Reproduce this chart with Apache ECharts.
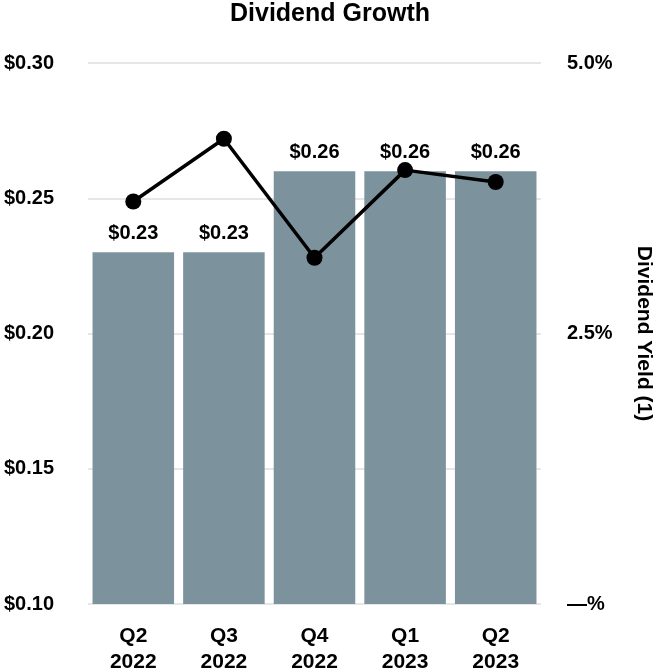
<!DOCTYPE html>
<html>
<head>
<meta charset="utf-8">
<script src="https://cdn.jsdelivr.net/npm/echarts@6/dist/echarts.min.js"></script>
<style>html,body{margin:0;padding:0;background:#fff}#c{width:660px;height:670px}</style>
</head>
<body>
<div id="c"></div>
<script>
const categories = ['Q2\n2022', 'Q3\n2022', 'Q4\n2022', 'Q1\n2023', 'Q2\n2023'];
const dividends = [0.23, 0.23, 0.26, 0.26, 0.26];
const yields = [3.72, 4.30, 3.20, 4.01, 3.90];
const leftTicks = { min: 0.10, max: 0.30, interval: 0.05 };
const rightTicks = { min: 0, max: 5, interval: 2.5 };

const FONT = '"Liberation Sans", Arial, sans-serif';
const chart = echarts.init(document.getElementById('c'));
chart.setOption({
  animation: false,
  title: {
    text: 'Dividend Growth', left: 'center', top: -3,
    textStyle: { fontFamily: FONT, fontWeight: 'bold', fontSize: 25, color: '#000' }
  },
  grid: { left: 88, right: 119, top: 63, bottom: 66, outerBoundsMode: 'none', containLabel: false },
  xAxis: {
    type: 'category', data: categories,
    axisLine: { show: false }, axisTick: { show: false },
    axisLabel: { fontFamily: FONT, fontWeight: 'bold', fontSize: 21, color: '#000', lineHeight: 26, margin: 19 }
  },
  yAxis: [
    {
      type: 'value', min: leftTicks.min, max: leftTicks.max, interval: leftTicks.interval,
      axisLine: { show: false }, axisTick: { show: false },
      splitLine: { lineStyle: { color: '#e6e6e6', width: 2 } },
      axisLabel: { fontFamily: FONT, fontWeight: 'bold', fontSize: 20, color: '#000', margin: 34,
        formatter: v => '$' + v.toFixed(2) }
    },
    {
      type: 'value', min: rightTicks.min, max: rightTicks.max, interval: rightTicks.interval,
      position: 'right',
      axisLine: { show: false }, axisTick: { show: false }, splitLine: { show: false },
      axisLabel: { fontFamily: FONT, fontWeight: 'bold', fontSize: 20, color: '#000', margin: 26,
        formatter: v => v === 0 ? '\u2014%' : v.toFixed(1) + '%' },
      name: 'Dividend Yield (1)', nameLocation: 'middle', nameGap: 92, nameRotate: -90,
      nameTextStyle: { fontFamily: FONT, fontWeight: 'bold', fontSize: 21, color: '#000' }
    }
  ],
  series: [
    {
      type: 'bar', data: dividends, yAxisIndex: 0, barCategoryGap: '10%',
      itemStyle: { color: '#7c939d' },
      label: { show: true, position: 'top', distance: 9, fontFamily: FONT, fontWeight: 'bold',
        fontSize: 20, color: '#000', formatter: p => '$' + p.value.toFixed(2) }
    },
    {
      type: 'line', data: yields, yAxisIndex: 1,
      symbol: 'circle', symbolSize: 16,
      lineStyle: { color: '#000', width: 3.5 },
      itemStyle: { color: '#000' }
    }
  ]
});
</script>
</body>
</html>
